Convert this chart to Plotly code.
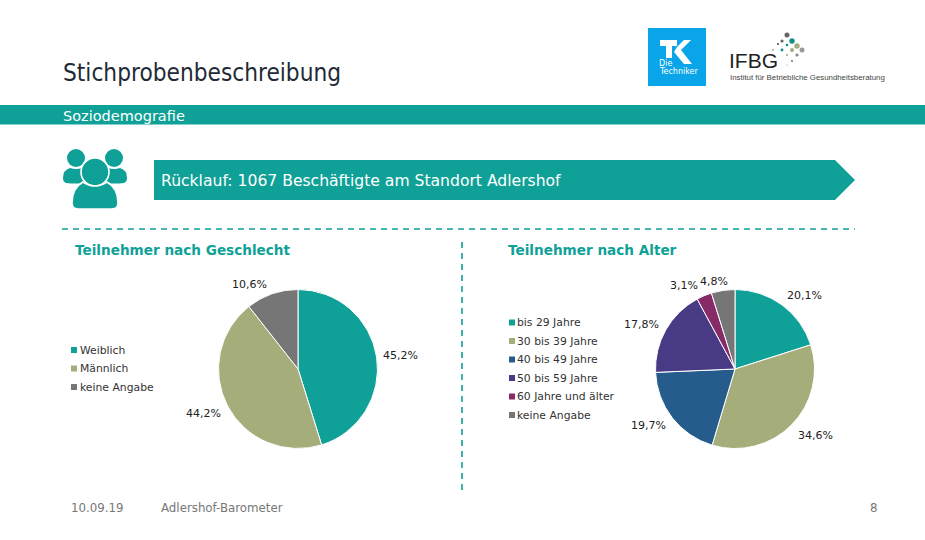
import math
import plotly.graph_objects as go

W, H = 925, 540
TEAL = "#0FA197"
sex_labels = ["Weiblich", "Männlich", "keine Angabe"]
sex_values = [45.2, 44.2, 10.6]
sex_colors = [TEAL, "#A5AD7A", "#767676"]
age_labels = ["bis 29 Jahre", "30 bis 39 Jahre", "40 bis 49 Jahre", "50 bis 59 Jahre", "60 Jahre und älter", "keine Angabe"]
age_values = [20.1, 34.6, 19.7, 17.8, 3.1, 4.8]
age_colors = [TEAL, "#A5AD7A", "#255C8C", "#483A84", "#862A68", "#767676"]

# label nudges relative to a radial position around each pie
sex_nudges = [(4, 2), (-6, -2), (-16, 10)]
age_nudges = [(11, 7), (9, -4), (-8, -5), (-7, 5), (-12, 9), (-6, 11)]
logo_dots = [(787, 35, 2.5, "#666666"), (782, 41, 1.6, "#666666"), (792, 41, 2.7, "#128F85"), (787, 45, 1.3, "#128F85"),
             (778, 44, 0.9, "#333333"), (797, 46, 2.7, "#A5AD7A"), (802, 50, 2.5, "#999999"), (792, 50, 2.0, "#A5AD7A"),
             (782, 50, 1.4, "#128F85"), (773, 50, 0.7, "#555555"), (797, 55, 1.6, "#888888"), (787, 55, 1.0, "#A5AD7A"),
             (792, 61, 0.9, "#666666"), (787, 65, 0.6, "#888888")]


def fx(x):
    return x / W


def fy(y):
    return 1 - y / H


def pt(x, y):
    return f"{fx(x):.5f},{fy(y):.5f}"


def rect(x0, y0, x1, y1, color):
    return dict(type="rect", xref="paper", yref="paper", x0=fx(x0), x1=fx(x1), y0=fy(y0), y1=fy(y1),
                fillcolor=color, line_width=0, layer="below")


def circle(cx, cy, r, color, line=None):
    return dict(type="circle", xref="paper", yref="paper", x0=fx(cx - r), x1=fx(cx + r), y0=fy(cy + r), y1=fy(cy - r),
                fillcolor=color, line=dict(color=line or color, width=1.6 if line else 0), layer="below")


def path(points, color):
    d = "M " + " L ".join(pt(x, y) for x, y in points) + " Z"
    return dict(type="path", xref="paper", yref="paper", path=d, fillcolor=color, line_width=0, layer="below")


def curve(start, segs, color, line=None):
    d = "M " + pt(*start)
    for (cx, cy, x, y) in segs:
        d += f" Q {pt(cx, cy)} {pt(x, y)}"
    d += " Z"
    return dict(type="path", xref="paper", yref="paper", path=d, fillcolor=color, layer="below",
                line=dict(color=line or color, width=1.6 if line else 0))


def dash(x0, y0, x1, y1):
    return dict(type="line", xref="paper", yref="paper", x0=fx(x0), x1=fx(x1), y0=fy(y0), y1=fy(y1),
                line=dict(color=TEAL, width=1.6, dash="6px,5px"))


def text(x, y, s, size, color="#333333", font="DejaVu Sans", anchor="left", bold=False):
    return dict(xref="paper", yref="paper", x=fx(x), y=fy(y), text=f"<b>{s}</b>" if bold else s, showarrow=False,
                xanchor=anchor, yanchor="middle", borderpad=0, borderwidth=0,
                font=dict(size=size, color=color, family=font))


R = 79.5
CY = 369


def pie(labels, values, colors, cx):
    return go.Pie(labels=labels, values=values, sort=False, direction="clockwise", rotation=0,
                  marker=dict(colors=colors, line=dict(color="white", width=1)),
                  textinfo="none", automargin=False, showlegend=False, hoverinfo="label+value",
                  domain=dict(x=[fx(cx - R), fx(cx + R)], y=[fy(CY + R), fy(CY - R)]))


def value_labels(values, nudges, cx):
    out, acc, total = [], 0, sum(values)
    for v, (nx, ny) in zip(values, nudges):
        a = 2 * math.pi * (acc + v / 2) / total
        acc += v
        x, y = cx + 100 * math.sin(a) + nx, CY - 100 * math.cos(a) + ny
        out.append(text(x, y, f"{v:.1f}%".replace(".", ","), 11, "#222222", anchor="center"))
    return out


def legend_items(labels, colors, y0, sx, tx):
    shapes_, notes = [], []
    for i, (lab, col) in enumerate(zip(labels, colors)):
        y = y0 + i * 18.5
        shapes_.append(rect(sx, y - 3, sx + 6, y + 3, col))
        notes.append(text(tx, y, lab, 10.8, "#333333"))
    return shapes_, notes


fig = go.Figure([pie(sex_labels, sex_values, sex_colors, 298), pie(age_labels, age_values, age_colors, 735)])

shapes = [
    rect(0, 105, W, 124.5, TEAL),
    path([(154, 160), (835, 160), (855, 180), (835, 200), (154, 200)], TEAL),
    dash(62, 229, 855, 229),
    dash(462, 242, 462, 490),
    # people icon
    circle(76, 158, 9, TEAL), circle(114, 158, 9, TEAL),
    curve((70, 168), [(76, 170, 82, 168), (84, 176, 87, 183), (76, 184, 66, 183), (63, 182, 63, 178), (63, 170, 70, 168)], TEAL),
    curve((120, 168), [(114, 170, 108, 168), (106, 176, 103, 183), (114, 184, 124, 183), (127, 182, 127, 178), (127, 170, 120, 168)], TEAL),
    circle(95, 172, 14, TEAL, "white"),
    curve((83, 182), [(95, 190, 107, 182), (118, 188, 118, 203), (118, 209, 112, 209), (95, 209, 78, 209), (72, 209, 72, 203), (72, 188, 83, 182)], TEAL, "white"),
    # TK logo
    rect(648, 28, 706, 86, "#0AA5E8"),
    path([(660, 40), (677, 40), (677, 46), (672, 46), (672, 58), (666, 58), (666, 46), (660, 46)], "white"),
    path([(677, 47), (684, 40), (691, 40), (681, 50), (692, 64), (684, 64), (674, 52)], "white"),
]
shapes += [circle(x, y, r, c) for x, y, r, c in logo_dots]

annotations = [
    text(63, 72.5, "Stichprobenbeschreibung", 24.2, "#1F2A36", "DejaVu Sans Condensed"),
    text(63, 115.5, "Soziodemografie", 14.5, "white"),
    text(161, 180.5, "Rücklauf: 1067 Beschäftigte am Standort Adlershof", 15.6, "white"),
    text(75, 250, "Teilnehmer nach Geschlecht", 13.6, TEAL, bold=True),
    text(508, 250, "Teilnehmer nach Alter", 13.6, TEAL, bold=True),
    text(71, 507.5, "10.09.19", 11.8, "#777777"),
    text(161, 507.5, "Adlershof-Barometer", 11.8, "#777777"),
    text(878, 507.5, "8", 11.8, "#777777", anchor="right"),
    text(659, 63, "Die", 8, "white"),
    text(659, 72, "Techniker", 8, "white"),
    text(729, 60, "IFBG", 21, "#222222", "Liberation Sans"),
    text(730, 77, "Institut für Betriebliche Gesundheitsberatung", 7.85, "#444444", "Liberation Sans"),
]
annotations += value_labels(sex_values, sex_nudges, 298) + value_labels(age_values, age_nudges, 735)
for labs, cols, y0, sx, tx in [(sex_labels, sex_colors, 350, 71, 80), (age_labels, age_colors, 322.5, 509, 517)]:
    s, n = legend_items(labs, cols, y0, sx, tx)
    shapes += s
    annotations += n

fig.update_layout(
    width=W, height=H, margin=dict(l=0, r=0, t=0, b=0), paper_bgcolor="white",
    shapes=shapes, annotations=annotations,
)
fig.write_html("out.html", config={"displayModeBar": False}, post_script="document.body.style.margin='0';")
